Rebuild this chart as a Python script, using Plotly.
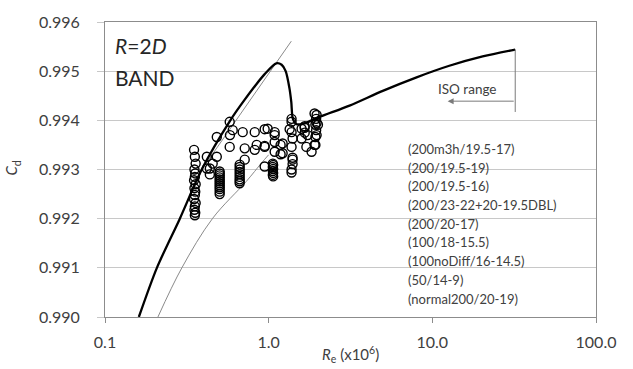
import math
import plotly.graph_objects as go

# ---------------- data ----------------
# thick curve (Re x1e6, Cd)
curve_re = [0.161, 0.2075, 0.2866, 0.390, 0.578, 0.714, 0.9455, 1.114, 1.20, 1.27, 1.34, 1.375, 1.406,
            1.482, 1.657, 2.047, 3.12, 4.98, 7.94, 12.7, 20.3, 32.1]
curve_cd = [0.99000, 0.99100, 0.99200, 0.99300, 0.99398, 0.99442, 0.99494, 0.99516, 0.99513, 0.99500, 0.99465, 0.99437, 0.99403,
            0.99392, 0.99394, 0.99407, 0.99430, 0.99460, 0.99487, 0.99511, 0.99530, 0.99544]

# thin reference lines
thin_low_re = [0.2105, 0.2948, 0.4554, 0.731, 0.903, 1.0]
thin_low_cd = [0.99000, 0.99100, 0.99201, 0.99276, 0.99313, 0.99330]
thin_up_re = [0.390, 1.375]
thin_up_cd = [0.99300, 0.99561]

# measured points, grouped by column / cluster
col_a_re = [0.350, 0.354, 0.358, 0.352, 0.356, 0.354, 0.350, 0.358, 0.352, 0.356, 0.354, 0.350, 0.358, 0.354, 0.352, 0.356, 0.354]
col_a_cd = [0.99340, 0.99326, 0.99312, 0.99300, 0.99292, 0.99285, 0.99278, 0.99270, 0.99262, 0.99255,
            0.99248, 0.99240, 0.99232, 0.99225, 0.99218, 0.99212, 0.99207]
col_b_re = [0.502] * 12
col_b_cd = [0.99296, 0.99292, 0.99288, 0.99284, 0.99280, 0.99276, 0.99272, 0.99268, 0.99264, 0.99260, 0.99255, 0.99250]
col_c_re = [0.665] * 9
col_c_cd = [0.99310, 0.99305, 0.99300, 0.99295, 0.99290, 0.99285, 0.99280, 0.99276, 0.99272]
col_d_re = [1.06, 1.065, 1.06, 1.065, 1.06, 1.065, 1.06, 1.065]
col_d_cd = [0.99312, 0.99309, 0.99305, 0.99301, 0.99297, 0.99293, 0.99289, 0.99286]
spread_re = [0.419, 0.419, 0.437, 0.437, 0.482, 0.482, 0.455,
             0.578, 0.603, 0.580, 0.578, 0.694, 0.714, 0.714, 0.822, 0.845, 0.822,
             0.986, 0.945, 0.945, 0.945, 0.945, 1.088, 1.088, 1.088, 1.088, 1.183, 1.183,
             1.217, 1.217, 1.343, 1.380, 1.380, 1.400, 1.380, 1.400, 1.380, 1.400, 1.400, 1.380, 1.380,
             1.589, 1.589, 1.658, 1.730, 1.700, 1.829, 1.907, 1.963, 1.963, 2.000, 1.963,
             1.907, 1.950, 1.930, 1.950, 1.930, 1.930, 1.660, 1.660]
spread_cd = [0.99326, 0.99302, 0.99302, 0.99290, 0.99366, 0.99326, 0.99312,
             0.99397, 0.99380, 0.99370, 0.99346, 0.99376, 0.99343, 0.99320, 0.99376, 0.99350, 0.99340,
             0.99383, 0.99346, 0.99306, 0.99382, 0.99348, 0.99376, 0.99356, 0.99336, 0.99370, 0.99350, 0.99331,
             0.99353, 0.99333, 0.99382, 0.99397, 0.99376, 0.99363, 0.99346, 0.99320, 0.99300, 0.99324, 0.99311, 0.99294, 0.99403,
             0.99383, 0.99363, 0.99385, 0.99370, 0.99346, 0.99336, 0.99350, 0.99411, 0.99370, 0.99391, 0.99395,
             0.99414, 0.99403, 0.99391, 0.99380, 0.99366, 0.99350, 0.99388, 0.99375]

legend_names = ["(200m3h/19.5-17)", "(200/19.5-19)", "(200/19.5-16)", "(200/23-22+20-19.5DBL)",
                "(200/20-17)", "(100/18-15.5)", "(100noDiff/16-14.5)", "(50/14-9)", "(normal200/20-19)"]

iso_re = 32.1
iso_cd = [0.99544, 0.99417]
arrow_end_re = 12.4
arrow_cd = 0.99439

y_ticks = [0.990, 0.991, 0.992, 0.993, 0.994, 0.995, 0.996]
x_ticks = [0.1, 1, 10, 100]
x_ticklabels = ["0.1", "1.0", "10.0", "100.0"]

# ---------------- figure ----------------
FONT = "Lato"
TXT = "#404040"
fig = go.Figure()

fig.add_trace(go.Scatter(x=thin_low_re, y=thin_low_cd, mode="lines", line=dict(color="#8a8a8a", width=1), line_shape="spline"))
fig.add_trace(go.Scatter(x=thin_up_re, y=thin_up_cd, mode="lines", line=dict(color="#8a8a8a", width=1)))

marker = dict(symbol="circle-open", size=9, color="black", line=dict(width=1.4, color="black"))
for xs, ys in [(col_a_re, col_a_cd), (col_b_re, col_b_cd), (col_c_re, col_c_cd), (col_d_re, col_d_cd), (spread_re, spread_cd)]:
    fig.add_trace(go.Scatter(x=xs, y=ys, mode="markers", marker=marker))

fig.add_trace(go.Scatter(x=curve_re, y=curve_cd, mode="lines", line=dict(color="black", width=2.3, shape="spline", smoothing=0.8)))
fig.add_trace(go.Scatter(x=[iso_re, iso_re], y=iso_cd, mode="lines", line=dict(color="#7a7a7a", width=1)))

fig.add_annotation(x=math.log10(arrow_end_re), y=arrow_cd, ax=math.log10(iso_re), ay=arrow_cd,
                   xref="x", yref="y", axref="x", ayref="y", text="", showarrow=True,
                   arrowhead=2, arrowsize=1.2, arrowwidth=1, arrowcolor="#7a7a7a")
fig.add_annotation(x=0.737, y=0.7716, xref="paper", yref="paper", text="ISO range", showarrow=False,
                   font=dict(family=FONT, size=13.5, color=TXT), xanchor="center", yanchor="middle")

for i, name in enumerate(legend_names):
    ypx = 147 + 18.9 * i
    fig.add_annotation(x=0.613, y=(316.7 - ypx) / 297.7, xref="paper", yref="paper", text=name,
                       showarrow=False, xanchor="left", yanchor="middle",
                       font=dict(family=FONT, size=13, color=TXT))

fig.add_annotation(x=0.016, y=0.919, xref="paper", yref="paper", text="<i>R</i>=2<i>D</i>", showarrow=False,
                   xanchor="left", yanchor="middle", font=dict(family=FONT, size=21, color="#262626"))
fig.add_annotation(x=0.016, y=0.811, xref="paper", yref="paper", text="BAND", showarrow=False,
                   xanchor="left", yanchor="middle", font=dict(family=FONT, size=21, color="#262626"))

fig.add_annotation(x=0.5, y=(316.7 - 355) / 297.7, xref="paper", yref="paper",
                   text="<i>R</i><sub>e</sub> (x10<sup>6</sup>)", showarrow=False,
                   xanchor="center", yanchor="middle", font=dict(family=FONT, size=15, color=TXT))
fig.add_annotation(x=(12 - 105) / 491, y=0.503, xref="paper", yref="paper",
                   text="<i>C</i><sub>d</sub>", showarrow=False, textangle=-90,
                   xanchor="center", yanchor="middle", font=dict(family=FONT, size=15, color=TXT))

fig.update_layout(
    width=633, height=369,
    margin=dict(l=105, r=37, t=19, b=52),
    paper_bgcolor="white", plot_bgcolor="white",
    showlegend=False,
    font=dict(family=FONT, color=TXT),
)
fig.update_xaxes(type="log", range=[-1, 2], tickvals=x_ticks, ticktext=x_ticklabels,
                 showgrid=False, zeroline=False, showline=True, linecolor="#8c8c8c", linewidth=1, mirror=True,
                 ticks="outside", ticklen=5, tickcolor="#8c8c8c", tickfont=dict(family=FONT, size=16, color=TXT),
                 ticklabelstandoff=6)
fig.update_yaxes(range=[0.990, 0.996], tickvals=y_ticks, tickformat=".3f",
                 showgrid=True, gridcolor="#c8c8c8", gridwidth=1, zeroline=False,
                 showline=True, linecolor="#8c8c8c", linewidth=1, mirror=True,
                 ticks="outside", ticklen=7, tickcolor="#c8c8c8", tickfont=dict(family=FONT, size=16, color=TXT),
                 ticklabelstandoff=14)

fig.write_html("out.html")
